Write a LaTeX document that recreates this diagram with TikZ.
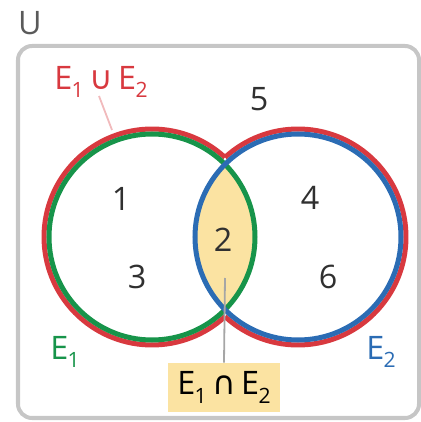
\documentclass[tikz,border=0pt]{standalone}
\usepackage{fontspec}
\setmainfont{Open Sans}
\newfontfamily\symfont{DejaVu Sans}
\usetikzlibrary{positioning}

\definecolor{unionred}{HTML}{D8393F}
\definecolor{setgreen}{HTML}{17944A}
\definecolor{setblue}{HTML}{2B6CB4}
\definecolor{lensyellow}{HTML}{FBE3A2}
\definecolor{framegray}{HTML}{C6C6C6}
\definecolor{numgray}{HTML}{303030}

\newcommand{\lowsub}[1]{\kern-0.5pt\raisebox{-6pt}{\fontsize{15}{15}\selectfont #1}}
\newcommand{\bigtext}{\fontsize{23}{26}\selectfont}

\tikzset{
  num/.style={text=numgray, font=\bigtext, inner sep=0pt},
  setlabel/.style={font=\bigtext, inner sep=0pt},
  ring/.style={line width=1.25mm},
  leader/.style={line width=0.45mm}
}

\begin{document}
\begin{tikzpicture}[x=0.025cm, y=0.025cm]
    \useasboundingbox (0,0) rectangle (421,422);

    % Grundmenge
    \draw[framegray, line width=1mm, rounded corners=0.35cm] (18,4) rectangle (419,376);
    \node[text=numgray!80, font=\bigtext, inner sep=0pt] (U) at (30,399) {U};

    % Schnittmenge
    \begin{scope}
        \clip (152,185) circle (103);
        \fill[lensyellow] (298,185) circle (103);
    \end{scope}

    % Vereinigung (rot, aussen)
    \draw[unionred, ring] (152,185) ++(47.5:108) arc (47.5:312.5:108);
    \draw[unionred, ring] (298,185) ++(-132.5:108) arc (-132.5:132.5:108);

    % Kreise
    \draw[setgreen, ring] (152,185) circle (103);
    \draw[setblue, ring] (298,185) circle (103);

    % Elemente
    \node[num] (n1) at (121,223) {1};
    \node[num] (n3) at (137,145) {3};
    \node[num] (n2) at (223,182) {2};
    \node[num] (n4) at (310,224) {4};
    \node[num] (n6) at (328,145) {6};
    \node[num] (n5) at (259,323) {5};

    % Beschriftungen
    \node[setlabel, text=unionred] (union) at (101,340)
        {E\lowsub{1}\,{\symfont ∪}\,E\lowsub{2}};
    \node[setlabel, text=setgreen] (E1) at (65,70) {E\lowsub{1}};
    \node[setlabel, text=setblue] (E2) at (381,70) {E\lowsub{2}};
    \node[setlabel, text=black, fill=lensyellow, minimum width=2.8cm,
          minimum height=1.225cm] (inter) at (224,34.5)
        {E\lowsub{1}\,{\symfont ∩}\,E\lowsub{2}};

    % Hinweislinien
    \coordinate (uniontip) at (112,292);
    \coordinate (lenstip) at (225,144);
    \draw[leader, unionred!35] (99,326) -- (uniontip);
    \draw[leader, black!35] (lenstip) -- (inter.north);
\end{tikzpicture}
\end{document}
